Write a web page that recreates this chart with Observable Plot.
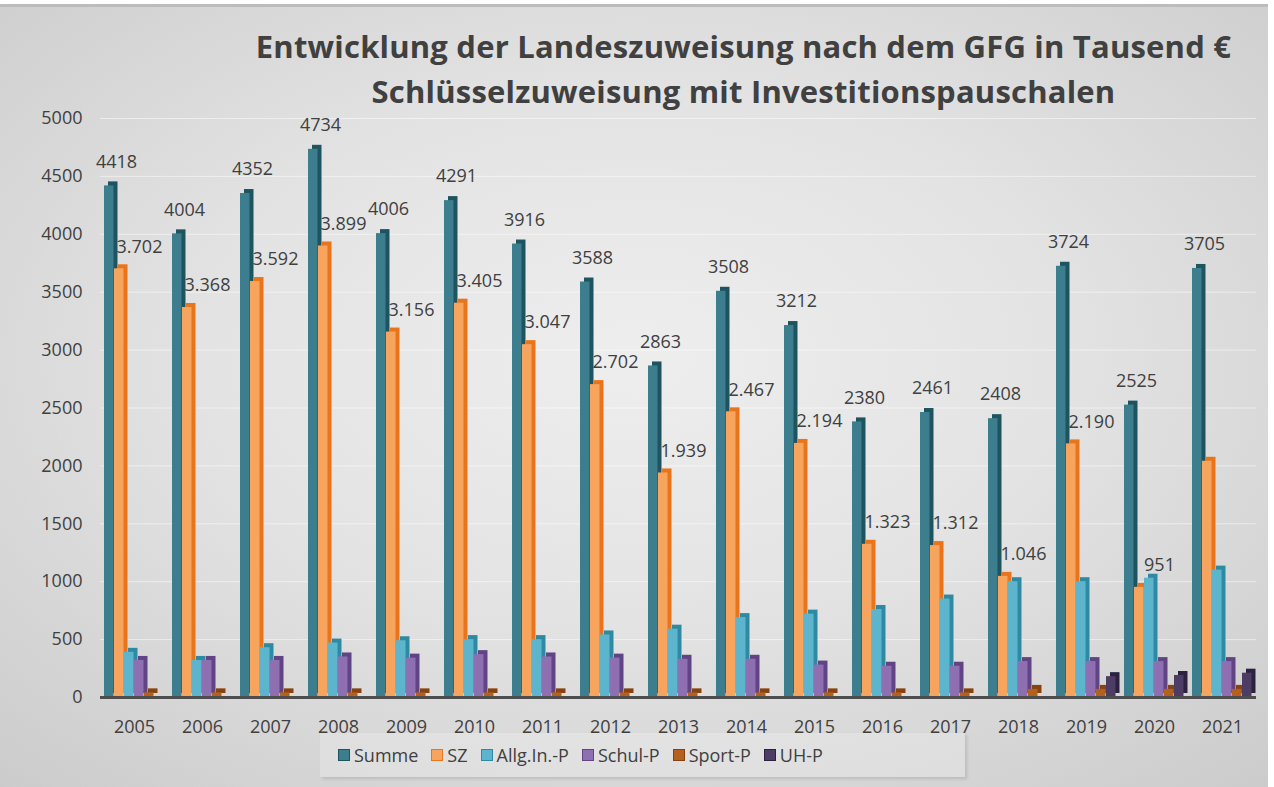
<!DOCTYPE html>
<html><head><meta charset="utf-8">
<script src="https://cdn.jsdelivr.net/npm/d3@7"></script>
<script src="https://cdn.jsdelivr.net/npm/@observablehq/plot@0.6"></script>
<style>
html,body{margin:0;padding:0;width:1274px;height:787px;overflow:hidden;background:#fff;font-family:"Open Sans",sans-serif;}
#bg{position:absolute;left:0;top:4px;width:1268px;height:783px;background:radial-gradient(ellipse 75% 75% at 50% 45%, #eeeeee 0%, #e3e3e3 45%, #cbcbcb 100%);border-top:3px solid #bcbcbc;}
#title{position:absolute;left:232px;top:24px;width:1023px;text-align:center;color:#404040;font-weight:700;font-size:31px;line-height:45px;letter-spacing:0.2px;}
#chart{position:absolute;left:0;top:110px;}
#legend{position:absolute;left:320px;top:733px;width:645px;height:44px;background:rgba(255,255,255,0.22);box-shadow:2px 2px 3px rgba(0,0,0,0.12);display:flex;align-items:center;padding-left:18px;box-sizing:border-box;color:#404040;font-size:18px;}
.item{display:flex;align-items:center;margin-right:13px;}
.sw{width:10px;height:10px;border:1.5px solid;margin-right:4px;}
</style></head>
<body>
<div id="bg"></div>
<div id="title">Entwicklung der Landeszuweisung nach dem GFG in Tausend €<br>Schlüsselzuweisung mit Investitionspauschalen</div>
<div id="chart"></div>
<div id="legend"></div>
<script>
const years = ["2005","2006","2007","2008","2009","2010","2011","2012","2013","2014","2015","2016","2017","2018","2019","2020","2021"];
const series = ["Summe","SZ","Allg.In.-P","Schul-P","Sport-P","UH-P"];
const summe = [4418,4004,4352,4734,4006,4291,3916,3588,2863,3508,3212,2380,2461,2408,3724,2525,3705];
const sz    = [3702,3368,3592,3899,3156,3405,3047,2702,1939,2467,2194,1323,1312,1046,2190,951,2040];
const allg  = [390,320,430,470,490,500,500,540,590,690,720,760,850,1000,1000,1030,1100];
const schul = [320,320,320,350,340,370,350,340,330,330,280,270,270,310,310,310,310];
const sport = [40,40,40,40,40,40,40,40,40,40,40,40,40,70,70,70,70];
const uh    = [0,0,0,0,0,0,0,0,0,0,0,0,0,0,180,190,210];
const yTicks = [0,500,1000,1500,2000,2500,3000,3500,4000,4500,5000];
const szLabelled = years.slice(0,16);

const values = [summe, sz, allg, schul, sport, uh];
const frontColor = {"Summe":"#3c7e8d","SZ":"#f7a45f","Allg.In.-P":"#5cb5cd","Schul-P":"#8d6fb2","Sport-P":"#b4601e","UH-P":"#4d3c64"};
const sideColor  = {"Summe":"#1e5360","SZ":"#e8751b","Allg.In.-P":"#2e8aa2","Schul-P":"#604484","Sport-P":"#874210","UH-P":"#2d2140"};

const data = [];
series.forEach((s,i)=>years.forEach((y,j)=>data.push({year:y, series:s, value:values[i][j]})));
const summeRows = years.map((y,j)=>({year:y, value:summe[j]}));
const szRows = szLabelled.map((y,j)=>({year:y, value:sz[j]}));

const chart = Plot.plot({
  width:1274, height:630,
  marginLeft:98, marginRight:17, marginTop:8, marginBottom:43,
  style:{background:"transparent", fontFamily:"Open Sans", fontSize:"18px", color:"#404040", overflow:"visible"},
  fx:{domain:years, padding:0, label:null},
  x:{domain:series, paddingInner:0, paddingOuter:0.25, axis:null},
  y:{domain:[0,5000], label:null},
  color:{type:"identity"},
  marks:[
    Plot.gridY(yTicks, {stroke:"#ffffff", strokeOpacity:0.5, strokeWidth:1}),
    Plot.barY(data, {fx:"year", x:"series", y:"value", fill:d=>sideColor[d.series], dx:4, dy:-4, insetRight:0.5}),
    Plot.barY(data, {fx:"year", x:"series", y:"value", fill:d=>frontColor[d.series], insetRight:0.5}),
    Plot.ruleY([0], {stroke:"#4d4d4d", strokeWidth:3}),
    Plot.text(summeRows, {fx:"year", y:"value", text:d=>String(d.value), dx:-18, dy:-24, fill:"#404040", fontSize:18}),
    Plot.text(szRows, {fx:"year", y:"value", text:d=>d.value.toLocaleString("de-DE"), dx:5, dy:-22, fill:"#404040", fontSize:18}),
    Plot.axisY(yTicks, {tickSize:0, tickPadding:18, tickFormat:d=>String(d), fill:"#404040", fontSize:18, label:null}),
    Plot.axisFx({anchor:"bottom", tickSize:0, tickPadding:23, fill:"#404040", fontSize:18, label:null})
  ]
});
document.getElementById("chart").appendChild(chart);

const legend = d3.select("#legend");
series.forEach(s=>{
  const it = legend.append("div").attr("class","item");
  it.append("div").attr("class","sw").style("background",frontColor[s]).style("border-color",sideColor[s]);
  it.append("span").text(s);
});
</script>
</body></html>
